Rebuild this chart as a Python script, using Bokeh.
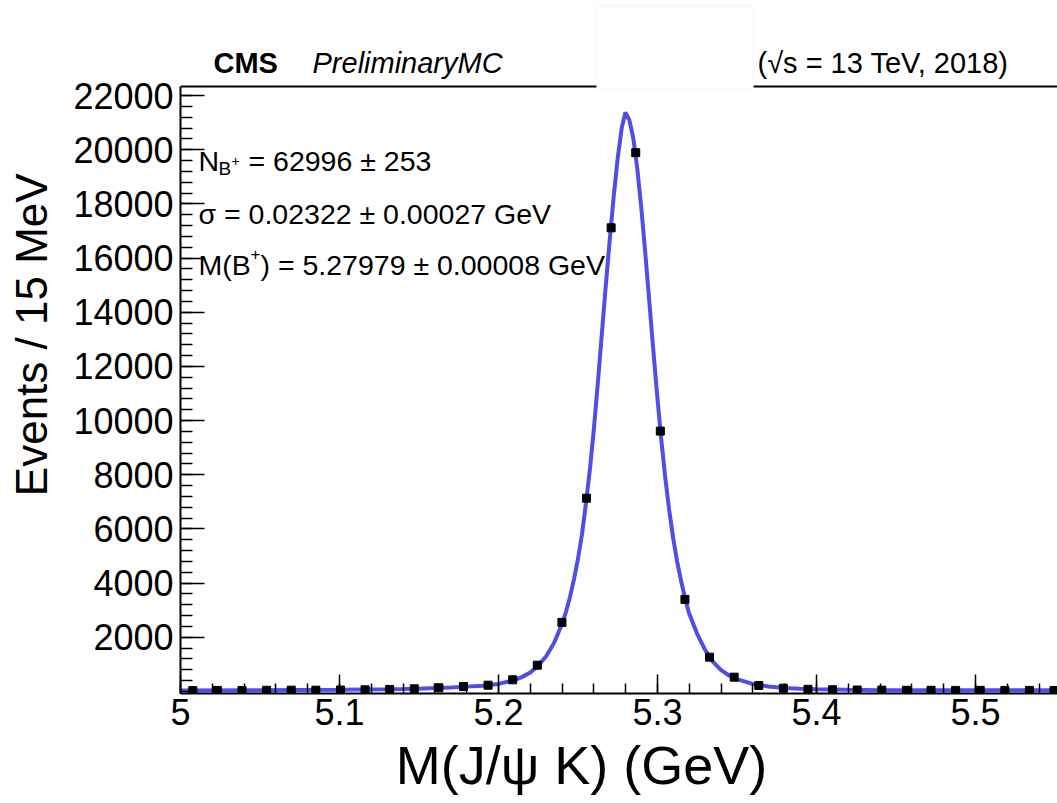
import math
from bokeh.plotting import figure
from bokeh.models import Range1d, FixedTicker, Label, BoxAnnotation, Span
from bokeh.embed import file_html
from bokeh.resources import INLINE

# ---------------- data ----------------
mass_lo, mass_hi, n_bins = 5.0, 5.65, 42
counts = [35, 40, 38, 45, 50, 48, 55, 60, 75, 100, 137, 185, 233, 433, 972,
          2550, 7135, 17116, 19889, 9612, 3400, 1268, 529, 222, 122, 80, 65,
          55, 50, 45, 45, 40, 42, 38, 40, 38]

curve_mass = [5.000, 5.050, 5.100, 5.130, 5.140, 5.150, 5.160, 5.170, 5.180,
              5.190, 5.200, 5.210, 5.215, 5.220, 5.225, 5.230, 5.235, 5.240,
              5.2425, 5.245, 5.2475, 5.250, 5.2525, 5.255, 5.2575, 5.260,
              5.2625, 5.265, 5.2675, 5.270, 5.2725, 5.275, 5.2775, 5.2798,
              5.2823, 5.2848, 5.2873, 5.2898, 5.2923, 5.2948, 5.2973, 5.2998,
              5.3023, 5.3048, 5.3073, 5.3098, 5.3123, 5.3148, 5.3173, 5.3198,
              5.3248, 5.3298, 5.3348, 5.3398, 5.3448, 5.3498, 5.3598, 5.3698,
              5.3798, 5.3898, 5.3998, 5.4198, 5.4398, 5.4798, 5.5600]
curve_vals = [40, 48, 62, 80, 90, 105, 125, 150, 180,
              215, 280, 420, 540, 700, 960, 1300, 1800, 2500,
              2950, 3500, 4150, 4900, 5800, 6950, 8200, 9700,
              11400, 13200, 15000, 16700, 18300, 19700, 20800, 21370,
              21100, 20420, 19300, 17860, 16200, 14430, 12650, 10930,
              9350, 7940, 6717, 5680, 4810, 4090, 3450, 2900,
              2150, 1550, 1100, 800, 600, 460, 280, 185,
              130, 100, 80, 60, 50, 45, 42]

x_ticks = [5.0, 5.1, 5.2, 5.3, 5.4, 5.5]
x_tick_labels = ["5", "5.1", "5.2", "5.3", "5.4", "5.5"]
y_ticks = [2000, 4000, 6000, 8000, 10000, 12000, 14000, 16000, 18000, 20000, 22000]
y_tick_labels = ["2000", "4000", "6000", "8000", "10000", "12000", "14000",
                 "16000", "18000", "20000", "22000"]

bin_w = (mass_hi - mass_lo) / n_bins
centers = [mass_lo + (i + 0.5) * bin_w for i in range(len(counts))]

# ---------------- layout (page pixels) ----------------
W, H = 1057, 803
FL, FR, FB = 180, 1057, 693        # frame left / right / bottom
TOP_LINE = 86                      # upper border of the plotting area
ZERO_PX = 691                      # pixel row of 0 events
u = 22000.0 / (ZERO_PX - 95)       # events per pixel
X0 = 5.0
X1 = 5.0 + 0.5 * (FR - FL) / (975 - FL)
Y0 = -(FB - ZERO_PX) * u
YTOP = ZERO_PX * u                 # value at the top of the canvas
Y1 = (ZERO_PX - TOP_LINE) * u      # value at the upper border line


def dx(px):
    return X0 + (px - FL) / (FR - FL) * (X1 - X0)


def dy(py):
    return Y0 + (FB - py) / FB * (YTOP - Y0)


FONT = "Liberation Sans"
NB = "\u00a0"

p = figure(width=W, height=H, output_backend="svg", toolbar_location=None,
           x_range=Range1d(X0, X1), y_range=Range1d(Y0, YTOP),
           min_border_left=FL, min_border_right=0,
           min_border_top=0, min_border_bottom=H - FB)
p.outline_line_color = None
p.grid.visible = False
p.background_fill_color = "white"
p.border_fill_color = "white"

xa = p.xaxis[0]
xa.ticker = FixedTicker(ticks=x_ticks,
                        minor_ticks=[round(5.0 + 0.02 * i, 2) for i in range(28)])
xa.major_label_overrides = {t: s for t, s in zip(x_ticks, x_tick_labels)}
xa.major_tick_in, xa.major_tick_out = 19, 0
xa.minor_tick_in, xa.minor_tick_out = 10, 0
xa.major_tick_line_width = 1.5
xa.minor_tick_line_width = 1.5
xa.axis_line_width = 2
xa.major_label_text_font = FONT
xa.major_label_text_font_size = "36px"
xa.major_label_text_color = "black"
xa.major_label_standoff = 5
xa.axis_label = "M(J/\u03c8 K) (GeV)" + NB * 5
xa.axis_label_text_font = FONT
xa.axis_label_text_font_size = "54px"
xa.axis_label_text_font_style = "normal"
xa.axis_label_text_color = "black"
xa.axis_label_standoff = 7

ya = p.yaxis[0]
ya.bounds = (Y0, Y1)
ya.ticker = FixedTicker(ticks=y_ticks, minor_ticks=[400 * i for i in range(56)])
ya.major_label_overrides = {t: s for t, s in zip(y_ticks, y_tick_labels)}
ya.major_tick_in, ya.major_tick_out = 24, 0
ya.minor_tick_in, ya.minor_tick_out = 12, 0
ya.major_tick_line_width = 1.5
ya.minor_tick_line_width = 1.5
ya.axis_line_width = 2
ya.major_label_text_font = FONT
ya.major_label_text_font_size = "36px"
ya.major_label_text_color = "black"
ya.major_label_standoff = 7
ya.axis_label = NB * 2 + "Events / 15 MeV"
ya.axis_label_text_font = FONT
ya.axis_label_text_font_size = "44px"
ya.axis_label_text_font_style = "normal"
ya.axis_label_text_color = "black"
ya.axis_label_standoff = 14

# upper border line of the plotting area
p.add_layout(Span(location=Y1, dimension="width", line_color="black", line_width=2))

# fit curve and data points
p.line(curve_mass, curve_vals, line_color="#4f4fe8", line_width=4)
p.scatter(centers, counts, marker="square", size=8, color="black")

# white box at top
p.add_layout(BoxAnnotation(left=dx(596), right=dx(753), top=dy(5), bottom=dy(89),
                           fill_color="white", fill_alpha=1.0,
                           line_color="#dddddd", line_width=1))


def lab(px, py, text, size, style="normal", align="left", baseline="alphabetic"):
    p.add_layout(Label(x=dx(px), y=dy(py), text=text, text_font=FONT,
                       text_font_size=f"{size}px", text_font_style=style,
                       text_align=align, text_baseline=baseline,
                       text_color="black"))


# header
lab(213, 62, "CMS", 29, "bold")
lab(312, 62, "PreliminaryMC", 29, "italic")
lab(757, 62, "(\u221as = 13 TeV, 2018)", 29)

# fit results
lab(198, 160, "N", 28.5)
lab(218, 168, "B", 19)
lab(231, 160, "+", 14)
lab(248, 160, "= 62996 \u00b1 253", 28.5)
lab(198, 213, "\u03c3 = 0.02322 \u00b1 0.00027 GeV", 28.5)
lab(198, 264, "M(B", 28.5)
lab(250, 253, "+", 17)
lab(260, 264, ") = 5.27979 \u00b1 0.00008 GeV", 28.5)

open("out.html", "w").write(file_html(p, INLINE))
